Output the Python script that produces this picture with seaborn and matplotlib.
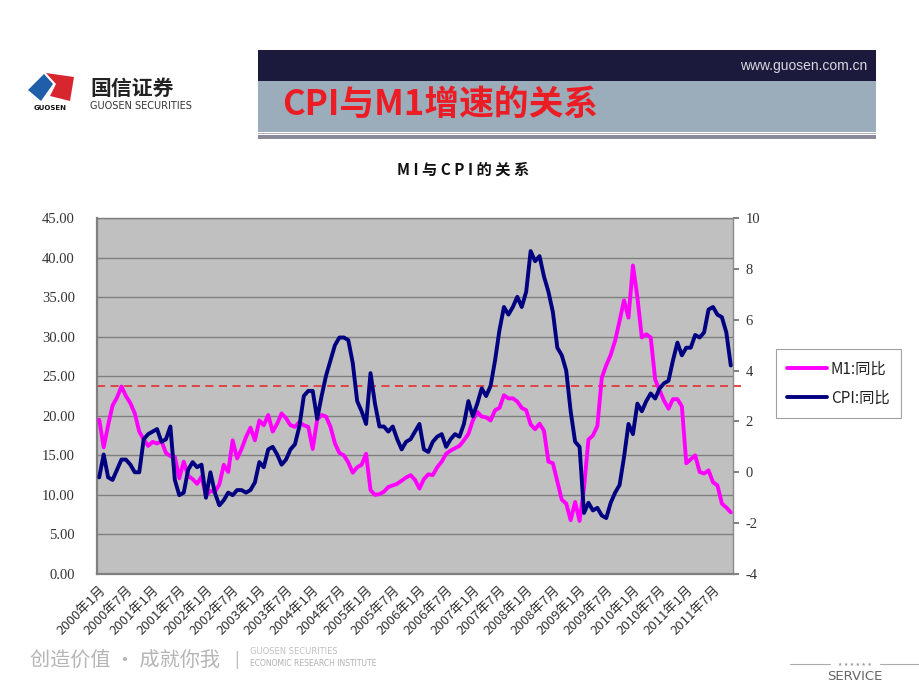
import numpy as np
import pandas as pd
import matplotlib
matplotlib.use("Agg")
import matplotlib.pyplot as plt
import seaborn as sns
from matplotlib.patches import Rectangle, Polygon
from matplotlib.lines import Line2D

# ---------------- data ----------------
m1_2000 = [19.5, 16.0, 18.8, 21.3, 22.3, 23.7, 22.5, 21.6, 20.3, 18.0, 17.0, 16.2]
m1_2001 = [16.7, 16.5, 16.8, 15.3, 14.9, 14.8, 12.1, 14.2, 12.4, 12.0, 11.4, 12.3]
m1_2002 = [9.9, 10.5, 10.4, 11.3, 13.8, 12.9, 16.9, 14.6, 15.8, 17.3, 18.5, 16.9]
m1_2003 = [19.4, 18.8, 20.1, 18.0, 19.0, 20.3, 19.7, 18.8, 18.6, 19.2, 18.8, 18.6]
m1_2004 = [15.8, 19.5, 20.1, 19.9, 18.6, 16.5, 15.3, 15.0, 14.1, 12.8, 13.5, 13.8]
m1_2005 = [15.2, 10.6, 10.0, 10.1, 10.4, 11.0, 11.2, 11.4, 11.8, 12.2, 12.5, 11.9]
m1_2006 = [10.8, 12.0, 12.6, 12.5, 13.5, 14.2, 15.2, 15.6, 15.9, 16.2, 16.9, 17.7]
m1_2007 = [19.4, 20.5, 19.9, 19.8, 19.4, 20.7, 21.0, 22.6, 22.2, 22.2, 21.8, 21.0]
m1_2008 = [20.7, 18.9, 18.3, 19.0, 18.1, 14.2, 14.0, 11.7, 9.4, 8.9, 6.8, 9.1]
m1_2009 = [6.7, 10.9, 17.0, 17.5, 18.7, 24.8, 26.4, 27.7, 29.5, 32.0, 34.6, 32.4]
m1_2010 = [39.0, 35.0, 29.9, 30.3, 29.9, 24.6, 23.2, 21.9, 20.9, 22.1, 22.1, 21.2]
m1_2011 = [14.0, 14.5, 15.0, 12.9, 12.7, 13.1, 11.6, 11.2, 8.9, 8.4, 7.8]

cpi_2000 = [-0.2, 0.7, -0.2, -0.3, 0.1, 0.5, 0.5, 0.3, 0.0, 0.0, 1.3, 1.5]
cpi_2001 = [1.6, 1.7, 1.2, 1.3, 1.8, -0.3, -0.9, -0.8, 0.1, 0.4, 0.2, 0.3]
cpi_2002 = [-1.0, 0.0, -0.8, -1.3, -1.1, -0.8, -0.9, -0.7, -0.7, -0.8, -0.7, -0.4]
cpi_2003 = [0.4, 0.2, 0.9, 1.0, 0.7, 0.3, 0.5, 0.9, 1.1, 1.8, 3.0, 3.2]
cpi_2004 = [3.2, 2.1, 3.0, 3.8, 4.4, 5.0, 5.3, 5.3, 5.2, 4.3, 2.8, 2.4]
cpi_2005 = [1.9, 3.9, 2.7, 1.8, 1.8, 1.6, 1.8, 1.3, 0.9, 1.2, 1.3, 1.6]
cpi_2006 = [1.9, 0.9, 0.8, 1.2, 1.4, 1.5, 1.0, 1.3, 1.5, 1.4, 1.9, 2.8]
cpi_2007 = [2.2, 2.7, 3.3, 3.0, 3.4, 4.4, 5.6, 6.5, 6.2, 6.5, 6.9, 6.5]
cpi_2008 = [7.1, 8.7, 8.3, 8.5, 7.7, 7.1, 6.3, 4.9, 4.6, 4.0, 2.4, 1.2]
cpi_2009 = [1.0, -1.6, -1.2, -1.5, -1.4, -1.7, -1.8, -1.2, -0.8, -0.5, 0.6, 1.9]
cpi_2010 = [1.5, 2.7, 2.4, 2.8, 3.1, 2.9, 3.3, 3.5, 3.6, 4.4, 5.1, 4.6]
cpi_2011 = [4.9, 4.9, 5.4, 5.3, 5.5, 6.4, 6.5, 6.2, 6.1, 5.5, 4.2]

years = list(range(2000, 2012))
m1_values = (m1_2000 + m1_2001 + m1_2002 + m1_2003 + m1_2004 + m1_2005 +
             m1_2006 + m1_2007 + m1_2008 + m1_2009 + m1_2010 + m1_2011)
cpi_values = (cpi_2000 + cpi_2001 + cpi_2002 + cpi_2003 + cpi_2004 + cpi_2005 +
              cpi_2006 + cpi_2007 + cpi_2008 + cpi_2009 + cpi_2010 + cpi_2011)
month_labels = [f"{y}年{m}月" for y in years for m in range(1, 13)][:len(m1_values)]
tick_labels = month_labels[::6]
ref_level = 23.8  # red dashed reference line (left axis)

series_names = ["M1:同比", "CPI:同比"]
chart_title = "M I 与 C P I 的 关 系"

# ---------------- figure ----------------
sns.set_theme(style="white")
plt.rcParams["font.family"] = ["Noto Sans CJK SC", "DejaVu Sans"]

W, H = 920, 690
fig = plt.figure(figsize=(W / 100, H / 100), dpi=100)
fig.patch.set_facecolor("white")


def fx(x):
    return x / W


def fy(y):
    return 1 - y / H


df = pd.DataFrame({"idx": np.arange(len(m1_values)), "M1": m1_values, "CPI": cpi_values})

ax = fig.add_axes([fx(97), fy(574), 636 / W, 356 / H])
ax.set_facecolor("#c0c0c0")
ax.set_axisbelow(True)
ax.yaxis.grid(True, color="#7f7f7f", lw=1.0)
ax.xaxis.grid(False)

ax.axhline(ref_level, xmin=0, xmax=1.012, color="#e23a3a", lw=1.3,
           ls=(0, (4.5, 3)), clip_on=False, zorder=2)

m1_color = "#ff00ff"
cpi_color = "#000080"
sns.lineplot(data=df, x="idx", y="M1", ax=ax, color=m1_color, lw=2.8, zorder=3)

ax2 = ax.twinx()
sns.lineplot(data=df, x="idx", y="CPI", ax=ax2, color=cpi_color, lw=2.8, zorder=3)

n = len(m1_values)
ax.set_xlim(-0.5, n - 0.5)
ax.set_ylim(0, 45)
ax2.set_ylim(-4, 10)

ax.set_yticks(np.arange(0, 46, 5))
ax.set_yticklabels([f"{v:.2f}" for v in np.arange(0, 46, 5)],
                   fontfamily="Liberation Serif", fontsize=10.5, color="#333333")
ax2.set_yticks(np.arange(-4, 11, 2))
ax2.set_yticklabels([str(v) for v in np.arange(-4, 11, 2)],
                    fontfamily="Liberation Serif", fontsize=10.5, color="#333333")

ax.set_xticks(np.arange(0, n, 6))
ax.set_xticklabels(tick_labels, rotation=45, ha="right", rotation_mode="anchor",
                   fontsize=9.5, color="#333333")
ax.set_xticks(np.arange(5.5, n - 0.5, 6), minor=True)
ax.tick_params(axis="x", which="major", length=0, pad=7)
ax.tick_params(axis="x", which="minor", length=3, direction="in", color="#6f6f6f", width=1)
ax.tick_params(axis="y", length=0, pad=16)
ax2.tick_params(axis="y", length=4, direction="out", color="#6f6f6f", pad=5)

ax.set_xlabel("")
ax.set_ylabel("")
ax2.set_ylabel("")

for s in ["left", "bottom"]:
    ax.spines[s].set_color("#7f7f7f")
    ax.spines[s].set_linewidth(1.6)
ax.spines["top"].set_color("#7f7f7f")
ax.spines["top"].set_linewidth(1.0)
ax.spines["right"].set_visible(False)
for s in ["left", "bottom", "top"]:
    ax2.spines[s].set_visible(False)
ax2.spines["right"].set_color("#8a8a8a")
ax2.spines["right"].set_linewidth(1.0)

# legend
handles = [Line2D([], [], color=m1_color, lw=2.8), Line2D([], [], color=cpi_color, lw=2.8)]
leg = fig.legend(handles, series_names, loc="upper left",
                 bbox_to_anchor=(fx(776), fy(349)), frameon=True, fancybox=False,
                 edgecolor="#8a8a8a", fontsize=11, handlelength=2.6,
                 borderpad=0.75, labelspacing=0.8, handletextpad=0.25, borderaxespad=0)
leg.get_frame().set_linewidth(0.8)
for t in leg.get_texts():
    t.set_color("#222222")

# chart title
fig.text(fx(463), fy(170), chart_title, ha="center", va="center",
         fontsize=11, fontweight="bold", color="#111111")

# ---------------- header ----------------
fig.add_artist(Rectangle((fx(258), fy(81)), 618 / W, 31 / H,
                         transform=fig.transFigure, color="#1b1a3c", lw=0))
fig.add_artist(Rectangle((fx(258), fy(132)), 618 / W, 51 / H,
                         transform=fig.transFigure, color="#9bacba", lw=0))
fig.add_artist(Rectangle((fx(258), fy(139)), 618 / W, 4 / H,
                         transform=fig.transFigure, color="#8a8a9a", lw=0))
fig.add_artist(Rectangle((fx(258), fy(134)), 618 / W, 1 / H,
                         transform=fig.transFigure, color="#b0b0bc", lw=0))
fig.text(fx(867), fy(66), "www.guosen.com.cn", ha="right", va="center",
         fontsize=10, color="#d8d8e0", family="Liberation Sans")
fig.text(fx(282), fy(104), "CPI与M1增速的关系", ha="left", va="center",
         fontsize=25, fontweight="bold", color="#ec1c24")

# logo
fig.add_artist(Polygon([(fx(28), fy(90)), (fx(44), fy(74)), (fx(53), fy(84)), (fx(41), fy(101))],
                       closed=True, transform=fig.transFigure, color="#1f5faa", lw=0))
fig.add_artist(Polygon([(fx(46), fy(73)), (fx(74), fy(77)), (fx(70), fy(101)), (fx(50), fy(96)),
                        (fx(56), fy(84))],
                       closed=True, transform=fig.transFigure, color="#d7262e", lw=0))
fig.text(fx(50), fy(108), "GUOSEN", ha="center", va="center", fontsize=5,
         fontweight="bold", color="#111111", family="DejaVu Sans")
fig.text(fx(90), fy(88), "国信证券", ha="left", va="center", fontsize=15,
         fontweight="bold", color="#222222")
fig.text(fx(90), fy(106), "GUOSEN SECURITIES", ha="left", va="center", fontsize=7,
         color="#333333", family="DejaVu Sans")

# ---------------- footer ----------------
fig.text(fx(30), fy(660), "创造价值 • 成就你我", ha="left", va="center", fontsize=14.5,
         color="#b5b5b5")
fig.text(fx(234), fy(660), "|", ha="left", va="center", fontsize=12, color="#b5b5b5")
fig.text(fx(250), fy(652), "GUOSEN SECURITIES", ha="left", va="center", fontsize=6,
         color="#c0c0c0", family="DejaVu Sans")
fig.text(fx(250), fy(664), "ECONOMIC RESEARCH INSTITUTE", ha="left", va="center",
         fontsize=5.5, color="#b0b0b0", family="DejaVu Sans")
fig.text(fx(855), fy(664), "★ ★ ★ ★ ★ ★", ha="center", va="center", fontsize=3.5,
         color="#999999", family="DejaVu Sans")
fig.add_artist(Line2D([fx(790), fx(830)], [fy(664), fy(664)], transform=fig.transFigure,
                      color="#aaaaaa", lw=0.8))
fig.add_artist(Line2D([fx(880), fx(920)], [fy(664), fy(664)], transform=fig.transFigure,
                      color="#aaaaaa", lw=0.8))
fig.text(fx(855), fy(677), "SERVICE", ha="center", va="center", fontsize=9.5,
         color="#666666", family="DejaVu Sans")

fig.savefig("out.png", dpi=100)
